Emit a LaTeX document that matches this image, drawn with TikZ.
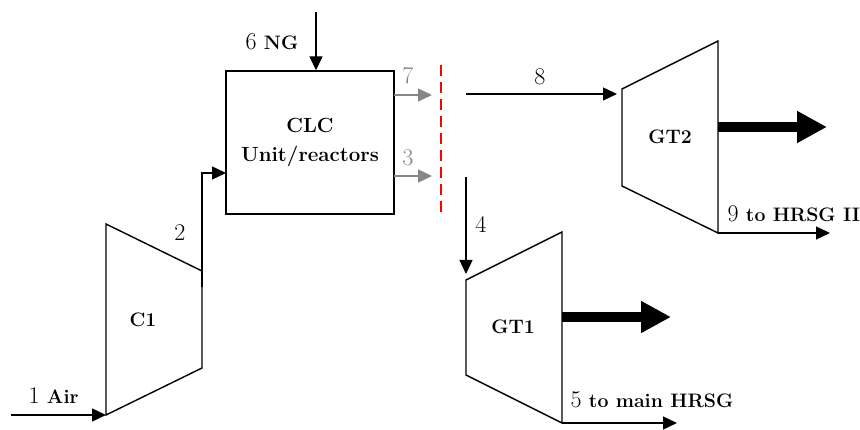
\documentclass[tikz,border=0pt]{standalone}
\usepackage{fontspec}
\usetikzlibrary{arrows.meta}
\newcommand{\bflab}{\fontsize{19.5}{22}\selectfont\bfseries}
\begin{document}
\begin{tikzpicture}[x=1pt,y=-1pt,
  line width=1.4pt,
  arr/.style={-{Triangle[length=14pt,width=13pt]}},
  garr/.style={draw=gray!95,-{Triangle[length=14pt,width=13pt]},gray!95},
  power/.style={line width=10pt,-{Triangle[length=30pt,width=30pt]}},
  num/.style={inner sep=0pt,anchor=base,font=\fontsize{24}{28}\selectfont},
  lbl/.style={inner sep=0pt,anchor=base west,font=\fontsize{24}{28}\selectfont},
  bf/.style={inner sep=0pt,font=\bflab}]
\useasboundingbox (0,0) rectangle (860,430);
% C1
\coordinate (c1tl) at (106,224); \coordinate (c1bl) at (106,415);
\coordinate (c1tr) at (202,271); \coordinate (c1br) at (202,368);
\draw (c1tl) -- (c1tr) -- (c1br) -- (c1bl) -- cycle;
\node[bf] (c1) at (143,320) {C1};
% CLC
\node[draw,minimum width=168pt,minimum height=143pt,align=center,
  font=\fontsize{20.5}{29}\selectfont\bfseries] (clc) at (310,142.5) {CLC\\Unit/reactors};
% GT2
\coordinate (g2tl) at (622,89); \coordinate (g2bl) at (622,186);
\coordinate (g2tr) at (718,41); \coordinate (g2br) at (718,233);
\draw (g2tl) -- (g2tr) -- (g2br) -- (g2bl) -- cycle;
\node[bf] (gt2) at (670,137) {GT2};
% GT1
\coordinate (g1tl) at (466,280); \coordinate (g1bl) at (466,375);
\coordinate (g1tr) at (562,232); \coordinate (g1br) at (562,423);
\draw (g1tl) -- (g1tr) -- (g1br) -- (g1bl) -- cycle;
\node[bf] (gt1) at (513,327) {GT1};
% stream 1
\coordinate (a0) at (11,415);
\draw[arr] (a0) -- (c1bl);
\node[lbl] (l1) at (28,403) {1 \bflab Air};
% stream 2
\coordinate (s2a) at (202,287); \coordinate (s2b) at (226,173);
\draw[arr] (s2a) |- (s2b);
\node[num] (l2) at (180,241) {2};
% stream 6
\coordinate (ng0) at (316,12);
\draw[arr] (ng0) -- (ng0 |- clc.north);
\node[lbl] (l6) at (245,50) {6 \bflab NG};
% streams 7 and 3
\coordinate (s7a) at (394,95); \coordinate (s7b) at (432,95);
\coordinate (s3a) at (394,176); \coordinate (s3b) at (432,176);
\draw[garr] (s7a) -- (s7b);
\draw[garr] (s3a) -- (s3b);
\node[num,text=gray!95] (l7) at (408,84) {7};
\node[num,text=gray!95] (l3) at (408,166) {3};
% red dashed separator
\coordinate (rd0) at (441,65); \coordinate (rd1) at (441,215);
\draw[red,line width=2.6pt,dash pattern=on 11pt off 6pt] (rd0) -- (rd1);
% stream 8
\coordinate (s8a) at (466,94); \coordinate (s8b) at (617,94);
\draw[arr] (s8a) -- (s8b);
\node[num] (l8) at (540,85) {8};
% stream 4
\coordinate (s4a) at (466,177); \coordinate (s4b) at (466,274);
\draw[arr] (s4a) -- (s4b);
\node[num] (l4) at (481,233) {4};
% power outputs
\coordinate (p2a) at (718,127); \coordinate (p2b) at (827,127);
\draw[power] (p2a) -- (p2b);
\coordinate (p1a) at (562,317); \coordinate (p1b) at (671,317);
\draw[power] (p1a) -- (p1b);
% stream 9
\coordinate (s9b) at (830,233);
\draw[arr] (g2br) -- (s9b);
\node[lbl] (l9) at (727,222) {9 \bflab to HRSG II};
% stream 5
\coordinate (s5b) at (677,423);
\draw[arr] (g1br) -- (s5b);
\node[lbl] (l5) at (570,408) {5 \bflab to main HRSG};
\end{tikzpicture}
\end{document}
